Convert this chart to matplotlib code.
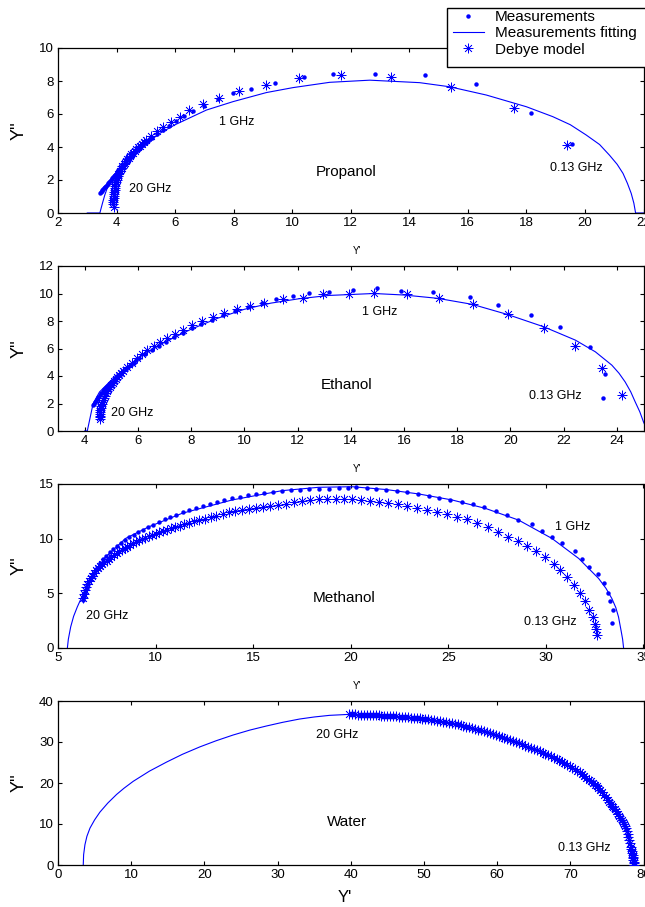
import matplotlib
matplotlib.use('Agg')
import matplotlib.pyplot as plt
from matplotlib.patches import Rectangle
from matplotlib.lines import Line2D

plt.rcParams['font.family'] = ['Liberation Sans', 'DejaVu Sans']

# ---------------- Propanol ----------------
prop_meas_x = [19.55, 18.17, 16.29, 14.53, 12.82, 11.40, 10.40, 9.41, 8.58, 7.98, 7.45, 7.00, 6.62, 6.30,
               6.02, 5.78, 5.57, 5.38, 5.21, 5.13, 5.06, 4.99, 4.92, 4.85, 4.79, 4.73, 4.67, 4.61, 4.56,
               4.51, 4.46, 4.41, 4.37, 4.32, 4.28, 4.24, 4.20, 4.16, 4.12, 4.08, 4.05, 4.01, 3.98, 3.95,
               3.92, 3.89, 3.86, 3.83, 3.80, 3.77, 3.75, 3.72, 3.70, 3.67, 3.65, 3.62, 3.60, 3.57, 3.55,
               3.52, 3.50, 3.47, 3.45]
prop_meas_y = [4.18, 6.04, 7.82, 8.36, 8.42, 8.42, 8.26, 7.90, 7.49, 7.25, 6.88, 6.50, 6.17, 5.85,
               5.55, 5.28, 5.03, 4.80, 4.57, 4.46, 4.36, 4.25, 4.15, 4.05, 3.95, 3.85, 3.75, 3.65, 3.56,
               3.47, 3.38, 3.29, 3.20, 3.11, 3.02, 2.93, 2.85, 2.76, 2.68, 2.60, 2.52, 2.44, 2.37, 2.30,
               2.23, 2.16, 2.10, 2.04, 1.98, 1.92, 1.87, 1.82, 1.77, 1.71, 1.66, 1.60, 1.55, 1.50, 1.44,
               1.38, 1.33, 1.27, 1.22]
prop_deb_x = [19.39, 17.57, 15.41, 13.37, 11.65, 10.23, 9.10, 8.19, 7.50, 6.94, 6.48, 6.16, 5.85, 5.60,
              5.38, 5.19, 5.02, 4.94, 4.87, 4.80, 4.74, 4.68, 4.62, 4.56, 4.51, 4.46, 4.41, 4.36, 4.32,
              4.28, 4.24, 4.20, 4.17, 4.14, 4.11, 4.08, 4.06, 4.04, 4.02, 4.00, 3.98, 3.96, 3.95, 3.94,
              3.93, 3.92, 3.91, 3.905, 3.90, 3.895, 3.89, 3.895, 3.90]
prop_deb_y = [4.12, 6.34, 7.66, 8.22, 8.36, 8.16, 7.76, 7.39, 6.99, 6.58, 6.24, 5.84, 5.54, 5.23,
              4.95, 4.69, 4.44, 4.32, 4.20, 4.09, 3.98, 3.87, 3.76, 3.65, 3.55, 3.45, 3.35, 3.25, 3.15,
              3.05, 2.95, 2.85, 2.75, 2.65, 2.55, 2.45, 2.34, 2.23, 2.12, 2.01, 1.90, 1.78, 1.66, 1.54,
              1.42, 1.30, 1.17, 1.05, 0.92, 0.78, 0.65, 0.52, 0.38]
prop_fit_x = [3.00, 3.43, 3.52, 3.60, 3.75, 4.00, 4.50, 5.00, 5.50, 6.00, 7.07, 7.98, 9.12, 10.03, 11.28,
              12.65, 14.35, 15.38, 16.63, 18.00, 18.90, 19.50, 20.04, 20.50, 20.84, 21.10, 21.30, 21.45,
              21.58, 21.67, 21.73, 22.00]
prop_fit_y = [0.00, 0.00, 0.60, 1.10, 1.85, 2.50, 3.45, 4.20, 4.85, 5.35, 6.24, 6.75, 7.30, 7.60, 7.92,
              8.05, 7.90, 7.65, 7.15, 6.44, 5.84, 5.35, 4.73, 4.15, 3.50, 2.95, 2.40, 1.80,
              1.19, 0.60, 0.00, 0.00]

# ---------------- Ethanol ----------------
eth_meas_x = [23.47, 23.57, 22.98, 21.88, 20.76, 19.55, 18.48, 17.09, 15.88, 14.97, 14.07, 13.19, 12.44,
              11.82, 11.20, 10.65, 10.13, 9.65, 9.20, 8.78, 8.39, 8.02, 7.68, 7.36, 7.06, 6.78, 6.52,
              6.28, 6.05, 5.94, 5.84, 5.74, 5.64, 5.54, 5.45, 5.36, 5.27, 5.18, 5.10, 5.02, 4.95, 4.88,
              4.81, 4.74, 4.68, 4.62, 4.56, 4.50, 4.45, 4.41, 4.38, 4.35, 4.32]
eth_meas_y = [2.41, 4.11, 6.12, 7.58, 8.43, 9.16, 9.74, 10.11, 10.18, 10.42, 10.25, 10.13, 10.06,
              9.79, 9.57, 9.28, 9.00, 8.70, 8.42, 8.10, 7.78, 7.48, 7.15, 6.83, 6.50, 6.18, 5.88,
              5.60, 5.34, 5.16, 4.98, 4.81, 4.65, 4.49, 4.33, 4.18, 4.03, 3.88, 3.74, 3.60, 3.47, 3.33,
              3.20, 3.06, 2.92, 2.77, 2.62, 2.46, 2.30, 2.19, 2.08, 1.97, 1.87]
eth_deb_x = [24.19, 23.44, 22.44, 21.25, 19.92, 18.59, 17.30, 16.10, 14.89, 13.93, 12.95, 12.21, 11.45,
             10.75, 10.22, 9.72, 9.25, 8.82, 8.42, 8.05, 7.71, 7.40, 7.11, 6.84, 6.59, 6.36, 6.15,
             5.95, 5.77, 5.60, 5.44, 5.37, 5.30, 5.23, 5.17, 5.11, 5.05, 4.99, 4.94, 4.89, 4.85, 4.81,
             4.77, 4.73, 4.70, 4.67, 4.65, 4.63, 4.61, 4.59, 4.58, 4.575, 4.57, 4.565, 4.56]
eth_deb_y = [2.65, 4.60, 6.20, 7.46, 8.48, 9.21, 9.65, 9.94, 10.04, 10.00, 9.94, 9.68, 9.57,
             9.33, 9.09, 8.85, 8.57, 8.28, 7.98, 7.68, 7.38, 7.08, 6.78, 6.48, 6.18, 5.88, 5.58,
             5.28, 4.98, 4.68, 4.38, 4.23, 4.08, 3.93, 3.78, 3.63, 3.48, 3.33, 3.18, 3.03, 2.88, 2.73,
             2.58, 2.43, 2.28, 2.13, 1.98, 1.83, 1.68, 1.53, 1.38, 1.24, 1.10, 1.00, 0.90]
eth_fit_x = [4.00, 4.10, 4.32, 4.56, 4.94, 5.50, 6.00, 7.00, 8.00, 9.00, 10.00, 11.00, 12.06, 13.19,
             14.87, 16.00, 17.26, 18.57, 19.88, 21.25, 22.44, 23.19, 23.81, 24.08, 24.31, 24.52, 24.69,
             24.86, 25.00, 25.15]
eth_fit_y = [0.00, 0.00, 2.00, 2.84, 3.57, 4.55, 5.30, 6.45, 7.40, 8.20, 8.85, 9.30, 9.62, 9.86,
             10.00, 9.89, 9.65, 9.21, 8.48, 7.58, 6.61, 5.76, 4.79, 4.20, 3.57, 2.85, 2.11,
             1.40, 0.66, 0.00]

# ---------------- Methanol ----------------
meth_meas_x = [33.38, 33.42, 33.30, 33.18, 32.97, 32.67, 32.22, 31.85, 31.47, 30.82, 30.31, 29.80, 29.29,
               28.57, 28.01, 27.46, 26.85, 26.25, 25.70, 25.11, 24.54, 24.00, 23.43, 22.89, 22.37,
               21.83, 21.30, 20.84, 20.29, 19.87, 19.39, 18.88, 18.36, 17.87, 17.39, 16.92, 16.46,
               16.01, 15.57, 15.14, 14.72, 14.31, 13.91, 13.52, 13.14, 12.77, 12.41, 12.06, 11.72,
               11.39, 11.07, 10.76, 10.46, 10.17, 9.89, 9.62, 9.36, 9.11, 8.87, 8.64, 8.42, 8.21,
               8.01, 7.82, 7.64, 7.47, 7.31, 7.16, 7.02, 6.89, 6.77, 6.66, 6.56, 6.47, 6.39, 6.32, 6.26]
meth_meas_y = [2.30, 3.52, 4.31, 5.05, 5.90, 6.76, 7.43, 8.10, 8.87, 9.57, 10.18, 10.70, 11.31,
               11.71, 12.17, 12.53, 12.87, 13.14, 13.33, 13.54, 13.72, 13.91, 14.09, 14.24, 14.33,
               14.46, 14.55, 14.61, 14.70, 14.61, 14.61, 14.55, 14.55, 14.50, 14.46, 14.41, 14.35,
               14.28, 14.19, 14.07, 13.95, 13.82, 13.68, 13.53, 13.36, 13.17, 12.99, 12.80, 12.60,
               12.40, 12.20, 12.00, 11.77, 11.52, 11.27, 11.03, 10.82, 10.60, 10.36, 10.12, 9.86, 9.60,
               9.33, 9.05, 8.77, 8.45, 8.15, 7.80, 7.35, 7.00, 6.60, 6.25, 5.85, 5.45, 5.05, 4.70, 4.40]
meth_deb_x = [32.62, 32.56, 32.53, 32.39, 32.22, 32.02, 31.76, 31.42, 31.08, 30.74, 30.40, 29.97, 29.49,
              29.03, 28.57, 28.06, 27.55, 27.03, 26.47, 25.96, 25.45, 24.94, 24.42, 23.91, 23.40,
              22.89, 22.43, 21.91, 21.44, 21.01, 20.50, 20.07, 19.64, 19.22, 18.79, 18.36, 17.93,
              17.50, 17.08, 16.67, 16.27, 15.88, 15.50, 15.13, 14.77, 14.42, 14.08, 13.75, 13.43,
              13.12, 12.82, 12.53, 12.25, 11.98, 11.72, 11.47, 11.23, 11.00, 10.78, 10.57, 10.37,
              10.18, 10.00, 9.82, 9.65, 9.48, 9.32, 9.16, 9.00, 8.85, 8.70, 8.55, 8.41, 8.27, 8.13,
              8.00, 7.87, 7.74, 7.62, 7.50, 7.38, 7.27, 7.16, 7.05, 6.95, 6.85, 6.76, 6.67, 6.59,
              6.51, 6.44, 6.37, 6.31, 6.26]
meth_deb_y = [1.17, 1.78, 2.17, 2.85, 3.52, 4.31, 4.99, 5.75, 6.45, 7.12, 7.67, 8.29, 8.90,
              9.32, 9.78, 10.18, 10.64, 11.03, 11.40, 11.77, 12.01, 12.26, 12.41, 12.62, 12.84,
              12.99, 13.14, 13.23, 13.33, 13.48, 13.54, 13.60, 13.60, 13.60, 13.60, 13.60, 13.53,
              13.43, 13.32, 13.21, 13.10, 13.00, 12.90, 12.80, 12.70, 12.60, 12.51, 12.40, 12.25,
              12.11, 11.97, 11.84, 11.72, 11.58, 11.44, 11.31, 11.18, 11.05, 10.93, 10.82, 10.70,
              10.57, 10.45, 10.33, 10.21, 10.09, 9.98, 9.87, 9.73, 9.58, 9.42, 9.27, 9.12, 8.98, 8.83,
              8.70, 8.53, 8.35, 8.18, 8.00, 7.83, 7.67, 7.52, 7.33, 7.10, 6.85, 6.62, 6.38, 6.14,
              5.85, 5.60, 5.30, 4.95, 4.60]
meth_fit_x = [5.48, 5.53, 5.65, 5.80, 5.99, 6.33, 6.76, 7.44, 8.47, 9.66, 11.36, 13.92, 16.48, 18.36,
              20.07, 21.78, 23.48, 25.19, 26.90, 28.60, 30.31, 31.68, 32.70, 33.08, 33.38, 33.58,
              33.72, 33.85, 33.93, 33.98]
meth_fit_y = [0.00, 0.80, 1.93, 2.90, 3.76, 5.10, 6.51, 8.34, 10.03, 11.09, 12.32, 13.54, 14.39, 14.70,
              14.75, 14.50, 14.09, 13.54, 12.77, 11.70, 10.02, 8.19, 6.36, 5.45, 4.52, 3.70,
              2.84, 1.60, 0.80, 0.00]

# ---------------- Water ----------------
wat_deb_x = [39.8, 40.2, 40.6, 41.0, 41.4, 41.8, 42.2, 42.6, 43.0, 43.4, 43.8, 44.2, 44.6, 45.0, 45.4,
             45.8, 46.2, 46.6, 47.0, 47.4, 47.8, 48.2, 48.6, 49.0, 49.4, 49.8, 50.2, 50.6, 51.0, 51.4,
             51.8, 52.2, 52.6, 53.0, 53.4, 53.8, 54.2, 54.6, 55.0, 55.4, 55.8, 56.2, 56.6, 57.0, 57.4,
             57.8, 58.2, 58.6, 59.0, 59.4, 59.8, 60.2, 60.6, 61.0, 61.4, 61.8, 62.2, 62.6, 63.0, 63.4,
             63.8, 64.2, 64.6, 65.0, 65.4, 65.8, 66.2, 66.6, 67.0, 67.4, 67.8, 68.15, 68.5, 68.85,
             69.2, 69.55, 69.9, 70.25, 70.6, 70.95, 71.3, 71.6, 71.9, 72.2, 72.5, 72.8, 73.1, 73.35,
             73.6, 73.85, 74.1, 74.35, 74.6, 74.85, 75.1, 75.3, 75.5, 75.7, 75.9, 76.1, 76.3, 76.5,
             76.7, 76.85, 77.0, 77.15, 77.3, 77.45, 77.6, 77.72, 77.85, 77.95, 78.05, 78.15, 78.25,
             78.32, 78.4, 78.45, 78.5, 78.55, 78.6, 78.62, 78.65, 78.68, 78.7]
wat_deb_y = [36.74, 36.73, 36.72, 36.70, 36.68, 36.65, 36.62, 36.59, 36.55, 36.52, 36.48, 36.45, 36.41,
             36.37, 36.33, 36.28, 36.23, 36.18, 36.12, 36.06, 36.00, 35.95, 35.90, 35.85, 35.80, 35.70,
             35.60, 35.49, 35.38, 35.26, 35.14, 35.02, 34.90, 34.80, 34.70, 34.57, 34.43, 34.27, 34.10,
             33.93, 33.75, 33.57, 33.38, 33.19, 33.00, 32.82, 32.64, 32.42, 32.20, 31.96, 31.72, 31.47,
             31.22, 30.97, 30.72, 30.46, 30.20, 29.95, 29.70, 29.42, 29.14, 28.86, 28.57, 28.29, 28.00,
             27.71, 27.42, 27.13, 26.84, 26.52, 26.20, 25.85, 25.50, 25.14, 24.78, 24.42, 24.05, 23.72,
             23.40, 23.02, 22.65, 22.20, 21.75, 21.30, 20.85, 20.38, 19.92, 19.55, 19.17, 18.72, 18.28,
             17.69, 17.10, 16.51, 15.92, 15.45, 14.98, 14.51, 14.05, 13.58, 13.10, 12.50, 11.90, 11.40,
             10.90, 10.42, 9.95, 9.48, 9.00, 8.30, 7.60, 6.88, 6.15, 5.32, 4.50, 3.90, 3.30, 2.90,
             2.50, 2.05, 1.60, 1.20, 0.80, 0.45, 0.10]
wat_fit_x = [3.45, 3.50, 3.68, 3.95, 4.37, 5.00, 5.73, 6.80, 8.00, 9.00, 10.27, 12.50, 14.83, 17.00,
             19.37, 21.60, 23.92, 26.20, 28.47, 30.70, 33.00, 35.00, 37.10, 39.80, 44.83, 49.40, 53.90,
             58.50, 63.00, 67.60, 71.20, 73.90, 76.20, 77.00, 77.60, 78.05, 78.40, 78.70]
wat_fit_y = [0.00, 2.50, 4.94, 7.00, 9.00, 11.00, 12.90, 15.10, 17.20, 18.70, 20.40, 22.90, 25.10, 27.00,
             28.80, 30.30, 31.70, 32.90, 33.90, 34.80, 35.60, 36.10, 36.50, 36.74, 36.40, 35.80, 34.55,
             32.50, 29.70, 26.40, 22.80, 18.70, 13.40, 10.90, 9.00, 6.15, 3.30, 0.00]

# annotations: (x, y, text)
prop_notes = [(7.5, 5.5, '1 GHz'), (4.42, 1.45, '20 GHz'), (18.79, 2.73, '0.13 GHz')]
eth_notes = [(14.44, 8.65, '1 GHz'), (4.98, 1.29, '20 GHz'), (20.71, 2.57, '0.13 GHz')]
meth_notes = [(30.45, 11.09, '1 GHz'), (6.45, 2.93, '20 GHz'), (28.86, 2.38, '0.13 GHz')]
wat_notes = [(35.2, 31.7, '20 GHz'), (68.25, 4.13, '0.13 GHz')]

BLUE = '#0000ff'
STAR = (8, 2, 0)
W, H = 645.0, 907.0

fig = plt.figure(figsize=(6.45, 9.07), dpi=100)

def make_ax(top, bottom):
    left, right = 58.0, 643.5
    return fig.add_axes([left / W, 1 - bottom / H, (right - left) / W, (bottom - top) / H])

def style(ax, xlim, ylim, xticks, yticks):
    ax.set_xlim(*xlim)
    ax.set_ylim(*ylim)
    ax.set_xticks(xticks)
    ax.set_yticks(yticks)
    ax.tick_params(direction='in', top=True, right=True, length=3, width=0.8,
                   labelsize=9.5, pad=3)
    for s in ax.spines.values():
        s.set_linewidth(0.9)
    ax.set_ylabel("Y''", fontsize=13)
    ax.yaxis.set_label_coords(-0.051, 0.5)

def draw(ax, fx, fy, mx, my, dx, dy, name, name_xy, notes):
    ax.plot(fx, fy, color=BLUE, lw=0.8, zorder=2)
    if mx is not None:
        ax.plot(mx, my, ls='none', marker='o', ms=3.2, mew=0, color=BLUE, zorder=3)
    ax.plot(dx, dy, ls='none', marker=STAR, ms=7, mew=0.5, color=BLUE, zorder=4)
    for x, y, t in notes:
        ax.text(x, y, t, ha='left', va='center', fontsize=9)
    ax.text(name_xy[0], name_xy[1], name, ha='left', va='center', fontsize=11)

ax1 = make_ax(48, 213)
draw(ax1, prop_fit_x, prop_fit_y, prop_meas_x, prop_meas_y, prop_deb_x, prop_deb_y,
     'Propanol', (10.8, 2.5), prop_notes)
style(ax1, (2, 22), (0, 10), range(2, 23, 2), range(0, 11, 2))
ax1.set_xlabel("Y'", fontsize=7)
ax1.xaxis.set_label_coords(0.51, -0.2)

ax2 = make_ax(266, 431)
draw(ax2, eth_fit_x, eth_fit_y, eth_meas_x, eth_meas_y, eth_deb_x, eth_deb_y,
     'Ethanol', (12.88, 3.37), eth_notes)
style(ax2, (3, 25), (0, 12), range(4, 25, 2), range(0, 13, 2))
ax2.set_xlabel("Y'", fontsize=7)
ax2.xaxis.set_label_coords(0.51, -0.2)

ax3 = make_ax(484, 648)
draw(ax3, meth_fit_x, meth_fit_y, meth_meas_x, meth_meas_y, meth_deb_x, meth_deb_y,
     'Methanol', (18.06, 4.53), meth_notes)
style(ax3, (5, 35), (0, 15), range(5, 36, 5), range(0, 16, 5))
ax3.set_xlabel("Y'", fontsize=7)
ax3.xaxis.set_label_coords(0.51, -0.2)

ax4 = make_ax(701, 865)
draw(ax4, wat_fit_x, wat_fit_y, None, None, wat_deb_x, wat_deb_y,
     'Water', (36.74, 10.6), wat_notes)
style(ax4, (0, 80), (0, 40), range(0, 81, 10), range(0, 41, 10))
ax4.set_xlabel("Y'", fontsize=12)
ax4.xaxis.set_label_coords(0.49, -0.155)

# legend box
rect = Rectangle((447 / W, 1 - 67 / H), (660 - 447) / W, (67 - 8) / H, transform=fig.transFigure,
                 facecolor='white', edgecolor='black', lw=1.0, zorder=4, clip_on=False)
fig.add_artist(rect)
handles = [Line2D([], [], ls='none', marker='o', ms=3.2, mew=0, color=BLUE),
           Line2D([], [], color=BLUE, lw=0.8),
           Line2D([], [], ls='none', marker=STAR, ms=7, mew=0.5, color=BLUE)]
leg = fig.legend(handles, ['Measurements', 'Measurements fitting', 'Debye model'],
                 loc='upper left', bbox_to_anchor=(453 / W, 1 - 10 / H), frameon=False,
                 borderpad=0, borderaxespad=0, handlelength=2.0, handletextpad=0.75,
                 labelspacing=0.15, fontsize=11)
leg.set_zorder(6)

fig.savefig('out.png', dpi=100)
